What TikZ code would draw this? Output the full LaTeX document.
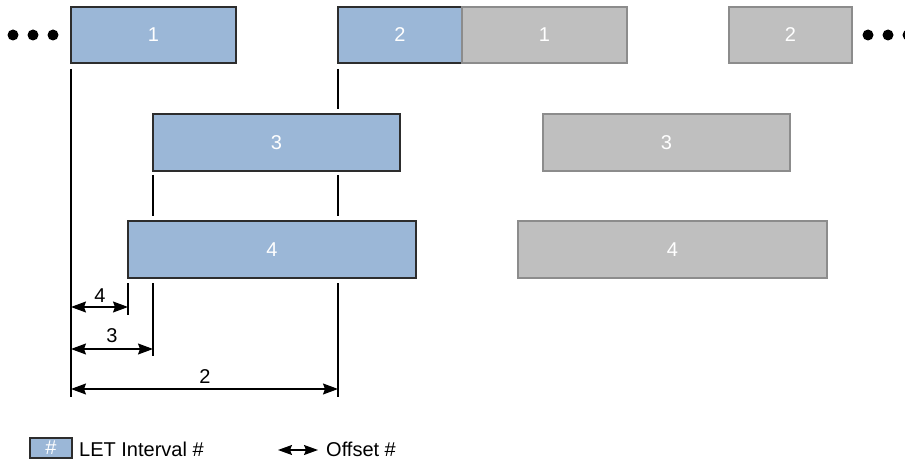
\documentclass[tikz,border=0pt]{standalone}
\usepackage{fontspec}
\setmainfont{Liberation Sans}
\usetikzlibrary{arrows.meta}
\definecolor{letblue}{RGB}{155,183,215}
\definecolor{letgray}{RGB}{191,191,191}
\definecolor{grayedge}{RGB}{140,140,140}
\definecolor{blueedge}{RGB}{45,45,45}
\begin{document}
\begin{tikzpicture}[x=1pt,y=-1pt,
  font=\fontsize{20}{22}\selectfont,
  ivbox/.style={draw, line width=1.4pt, inner sep=0pt, text=white, minimum height=56pt},
  bluebox/.style={ivbox, fill=letblue, draw=blueedge},
  graybox/.style={ivbox, fill=letgray, draw=grayedge},
  tick/.style={line width=1.2pt},
  head/.style={Stealth[length=15pt,width=11pt,inset=2pt]},
  offset/.style={line width=1.2pt, {Stealth[length=15pt,width=11pt,inset=2pt]}-{Stealth[length=15pt,width=11pt,inset=2pt]}},
  dot/.style={circle, fill=black, inner sep=0pt, minimum size=11pt}
]
\useasboundingbox (0,0) rectangle (905,465);

% first row of intervals
\node[bluebox, minimum width=165pt] (b1) at (153.5,35) {1};
\node[bluebox, minimum width=124pt] (b2) at (400,35) {2};
\node[graybox, minimum width=165pt] (g1) at (544.5,35) {1};
\node[graybox, minimum width=123pt] (g2) at (790.5,35) {2};

% second and third rows
\node[bluebox, minimum width=247pt, minimum height=57pt] (b3) at (276.5,142.5) {3};
\node[graybox, minimum width=247pt, minimum height=57pt] (g3) at (666.5,142.5) {3};
\node[bluebox, minimum width=288pt, minimum height=57pt] (b4) at (272,249.5) {4};
\node[graybox, minimum width=309pt, minimum height=57pt] (g4) at (672.5,249.5) {4};

% continuation dots
\node[dot] (l1) at (13,35) {};
\node[dot] (l2) at (33,35) {};
\node[dot] (l3) at (53,35) {};
\node[dot] (r1) at (868,35) {};
\node[dot] (r2) at (888,35) {};
\node[dot] (r3) at (908,35) {};

% reference ticks
\coordinate (t1a) at (71,69);   \coordinate (t1b) at (71,397);
\coordinate (t2a) at (338,69);  \coordinate (t2b) at (338,109);
\coordinate (t2c) at (338,175); \coordinate (t2d) at (338,216);
\coordinate (t2e) at (338,283); \coordinate (t2f) at (338,397);
\coordinate (t3a) at (153,175); \coordinate (t3b) at (153,216);
\coordinate (t3c) at (153,283); \coordinate (t3d) at (153,356);
\coordinate (t4a) at (128,283); \coordinate (t4b) at (128,315);
\draw[tick] (t1a) -- (t1b);
\draw[tick] (t2a) -- (t2b);
\draw[tick] (t2c) -- (t2d);
\draw[tick] (t2e) -- (t2f);
\draw[tick] (t3a) -- (t3b);
\draw[tick] (t3c) -- (t3d);
\draw[tick] (t4a) -- (t4b);

% offsets
\coordinate (o4a) at (71,307);  \coordinate (o4b) at (128,307);
\coordinate (o3a) at (71,349);  \coordinate (o3b) at (153,349);
\coordinate (o2a) at (71,389);  \coordinate (o2b) at (338,389);
\draw[offset] (o4a) -- (o4b);
\draw[offset] (o3a) -- (o3b);
\draw[offset] (o2a) -- (o2b);
\node (n4) at (100,296) {4};
\node (n3) at (112,336) {3};
\node (n2) at (205,377) {2};

% legend
\node[bluebox, minimum width=42pt, minimum height=20pt, line width=1.2pt] (lg) at (51,448) {\#};
\node[anchor=west, inner sep=0pt] (lgt) at (79,449) {LET Interval \#};
\coordinate (la) at (278,450);
\coordinate (lb) at (318,450);
\draw[line width=1.2pt, {Stealth[length=14pt,width=10pt,inset=2pt]}-{Stealth[length=14pt,width=10pt,inset=2pt]}] (la) -- (lb);
\node[anchor=west, inner sep=0pt] (lot) at (326,449) {Offset \#};
\end{tikzpicture}
\end{document}
